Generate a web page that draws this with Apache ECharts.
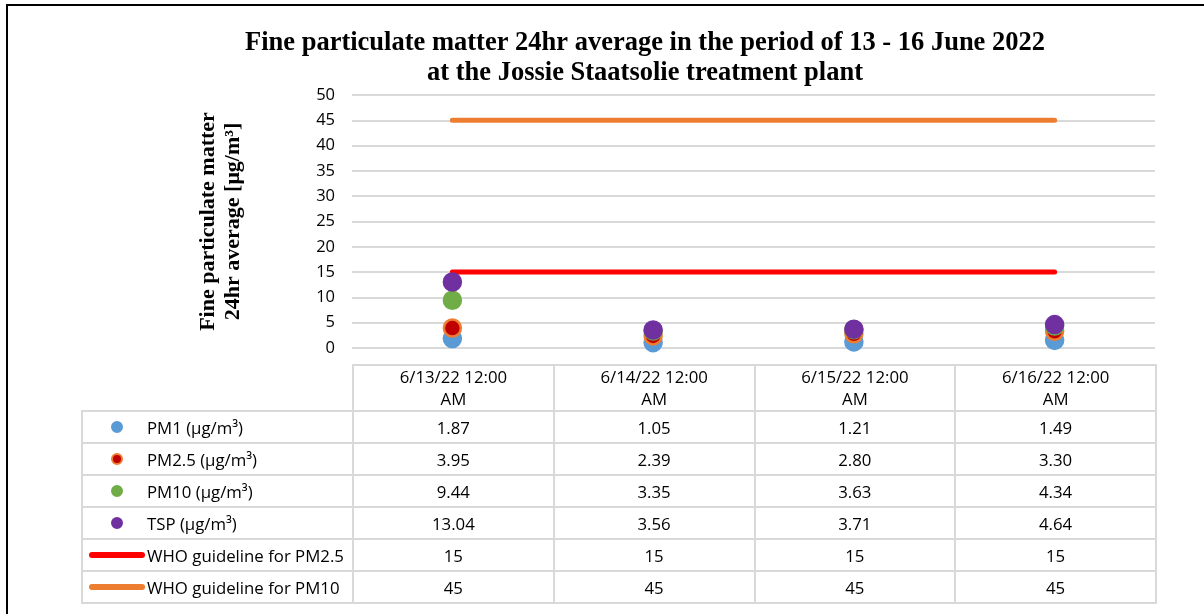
<!DOCTYPE html>
<html>
<head>
<meta charset="utf-8">
<script src="https://cdn.jsdelivr.net/npm/echarts@6/dist/echarts.min.js"></script>
<style>
  html, body { margin: 0; padding: 0; background: #fff; }
  #wrap { position: relative; width: 1204px; height: 614px; overflow: hidden; }
  #frame { position: absolute; left: 6px; top: 4px; width: 1300px; height: 700px;
           border-left: 2px solid #000; border-top: 2px solid #000; }
  #chart { position: absolute; left: 0; top: 0; width: 1204px; height: 614px; }
  #tbl { position: absolute; left: 81px; top: 364px; border-collapse: collapse;
         table-layout: fixed; font-family: "Open Sans", sans-serif; font-size: 16.8px; color: #000; }
  #tbl td { border: 2px solid #d9d9d9; text-align: center; padding: 0; }
  #tbl td.blank { border: none; }
  #tbl tr.head td { height: 43px; line-height: 22px; }
  #tbl tr.row td { height: 30px; }
  #tbl td.key { text-align: left; position: relative; padding-left: 64px; white-space: nowrap; }
  .dot { position: absolute; left: 28px; top: 50%; width: 12px; height: 12px; margin-top: -6px; border-radius: 50%; box-sizing: border-box; }
  .bar { position: absolute; left: 6px; top: 50%; width: 56px; height: 6px; margin-top: -3px; border-radius: 3px; }
</style>
</head>
<body>
<div id="wrap">
  <div id="frame"></div>
  <div id="chart"></div>
  <table id="tbl"></table>
</div>
<script>
var categories = ['6/13/22 12:00 AM', '6/14/22 12:00 AM', '6/15/22 12:00 AM', '6/16/22 12:00 AM'];
var pm1 = [1.87, 1.05, 1.21, 1.49];
var pm25 = [3.95, 2.39, 2.80, 3.30];
var pm10 = [9.44, 3.35, 3.63, 4.34];
var tsp = [13.04, 3.56, 3.71, 4.64];
var whoPm25 = [15, 15, 15, 15];
var whoPm10 = [45, 45, 45, 45];

var seriesInfo = [
    {name: 'PM1 (μg/m³)', data: pm1, kind: 'dot', color: '#5b9bd5', border: '#5b9bd5', digits: 2},
    {name: 'PM2.5 (μg/m³)', data: pm25, kind: 'dot', color: '#c00000', border: '#ed7d31', digits: 2},
    {name: 'PM10 (μg/m³)', data: pm10, kind: 'dot', color: '#70ad47', border: '#70ad47', digits: 2},
    {name: 'TSP (μg/m³)', data: tsp, kind: 'dot', color: '#7030a0', border: '#7030a0', digits: 2},
    {name: 'WHO guideline for PM2.5', data: whoPm25, kind: 'line', color: '#ff0000', digits: 0},
    {name: 'WHO guideline for PM10', data: whoPm10, kind: 'line', color: '#ed7d31', digits: 0}
];

var chart = echarts.init(document.getElementById('chart'), null, {renderer: 'canvas'});

var series = [];
seriesInfo.forEach(function (s) {
    if (s.kind === 'line') {
        series.push({
            name: s.name, type: 'line', data: s.data, symbol: 'none', z: 2,
            lineStyle: {color: s.color, width: 5, cap: 'round'}
        });
    }
});
seriesInfo.forEach(function (s) {
    if (s.kind === 'dot') {
        series.push({
            name: s.name, type: 'scatter', data: s.data, symbolSize: 17, z: 3,
            itemStyle: {color: s.color, borderColor: s.border, borderWidth: 2.5, opacity: 1}
        });
    }
});

chart.setOption({
    animation: false,
    title: {
        text: 'Fine particulate matter 24hr average in the period of 13 - 16 June 2022\nat the Jossie Staatsolie treatment plant',
        left: 640, top: 23, textAlign: 'center',
        textStyle: {fontFamily: 'Liberation Serif', fontWeight: 'bold', fontSize: 26.5, lineHeight: 30, color: '#000'}
    },
    grid: {left: 352, right: 49, top: 95, bottom: 266},
    xAxis: {
        type: 'category', data: categories, boundaryGap: true,
        axisLine: {show: false}, axisTick: {show: false}, axisLabel: {show: false}
    },
    yAxis: {
        type: 'value', min: 0, max: 50, interval: 5,
        name: 'Fine particulate matter\n24hr average [μg/m³]',
        nameLocation: 'middle', nameRotate: 90, nameGap: 106,
        nameTextStyle: {fontFamily: 'Liberation Serif', fontWeight: 'bold', fontSize: 22, lineHeight: 25, color: '#000'},
        axisLine: {show: false}, axisTick: {show: false},
        axisLabel: {fontFamily: 'Open Sans', fontSize: 16.5, color: '#000', margin: 17},
        splitLine: {lineStyle: {color: '#d9d9d9', width: 2}}
    },
    series: series
});

// data table under the plot
var tbl = document.getElementById('tbl');
var html = '<colgroup><col style="width:271px">';
categories.forEach(function () { html += '<col style="width:200.75px">'; });
html += '</colgroup><tr class="head"><td class="blank"></td>';
categories.forEach(function (c) {
    var i = c.lastIndexOf(' ');
    html += '<td>' + c.slice(0, i) + '<br>' + c.slice(i + 1) + '</td>';
});
html += '</tr>';
seriesInfo.forEach(function (s) {
    var key;
    if (s.kind === 'dot') {
        key = '<span class="dot" style="background:' + s.color + ';border:2px solid ' + s.border + '"></span>';
    } else {
        key = '<span class="bar" style="background:' + s.color + '"></span>';
    }
    html += '<tr class="row"><td class="key">' + key + s.name + '</td>';
    s.data.forEach(function (v) { html += '<td>' + v.toFixed(s.digits) + '</td>'; });
    html += '</tr>';
});
tbl.innerHTML = html;
</script>
</body>
</html>
